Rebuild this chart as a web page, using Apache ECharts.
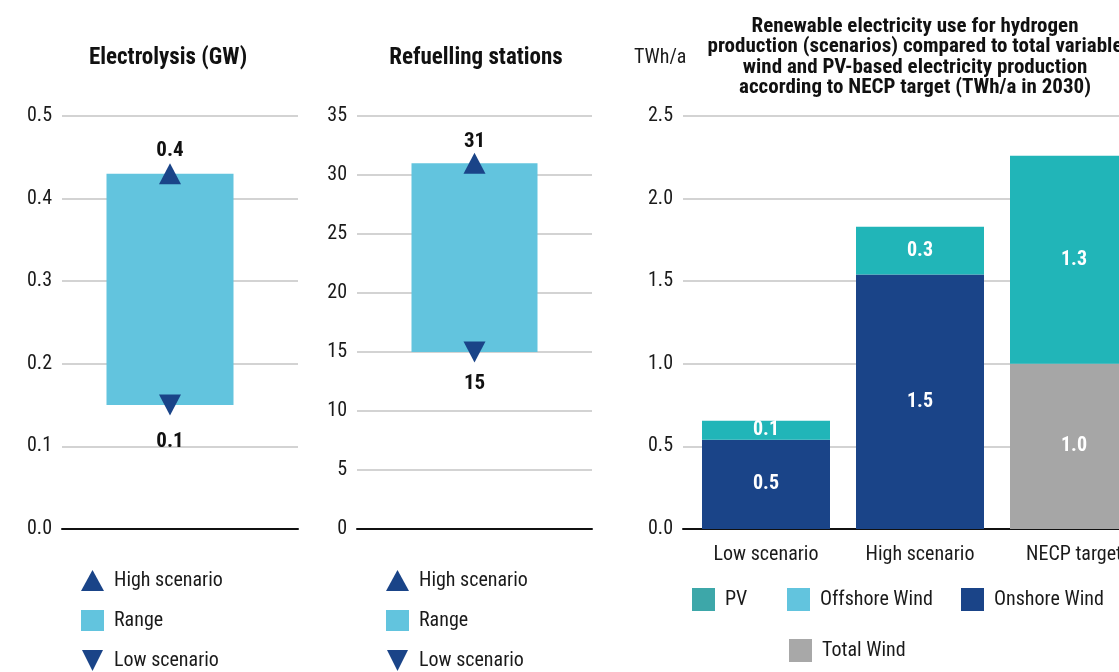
<!DOCTYPE html>
<html>
<head>
<meta charset="utf-8">
<script src="https://cdn.jsdelivr.net/npm/echarts@6/dist/echarts.min.js"></script>
<style>
  html, body { margin: 0; padding: 0; background: #fff; }
  #chart { width: 1119px; height: 672px; }
</style>
</head>
<body>
<div id="chart"></div>
<script>
// electrolysis panel (GW)
const electrolysisLow = [0.15];
const electrolysisHigh = [0.43];
const electrolysisLabels = { high: '0.4', low: '0.1' };
const electrolysisTicks = { min: 0, max: 0.5, step: 0.1 };

// refuelling stations panel
const stationsLow = [15];
const stationsHigh = [31];
const stationsLabels = { high: '31', low: '15' };
const stationsTicks = { min: 0, max: 35, step: 5 };

// renewable electricity panel (TWh/a in 2030)
const scenarioCats = ['Low scenario', 'High scenario', 'NECP target'];
const onshoreWind = [0.54, 1.54, null];
const offshoreWind = [null, null, null];
const totalWind = [null, null, 1.0];
const pvValues = [0.115, 0.29, 1.26];
const energyTicks = { min: 0, max: 2.5, step: 0.5 };

const FONT = "'Liberation Sans Narrow', 'Roboto Condensed', 'Liberation Sans', sans-serif";
const TXT = '#1a1a1a';
const DARK = '#1a4488';
const RANGE = '#62c4de';
const TEAL = '#21b5b8';
const GREY = '#a6a6a6';

const chart = echarts.init(document.getElementById('chart'));

const downTri = 'path://M0,0L10,0L5,10Z';

function valueAxis(gridIndex, t, show) {
  return {
    type: 'value', gridIndex, min: t.min, max: t.max, interval: t.step,
    show: show,
    axisLine: { show: false }, axisTick: { show: false },
    axisLabel: {
      color: TXT, fontSize: 20, fontFamily: FONT, margin: 10,
      formatter: v => (t.step < 1 ? v.toFixed(1) : String(v))
    },
    splitLine: { show: show, lineStyle: { color: '#c4c4c4', width: 1.5 } }
  };
}

function lineXAxis(gridIndex) {
  return {
    type: 'category', gridIndex, data: [''],
    axisLine: { lineStyle: { color: '#111', width: 2 } },
    axisTick: { show: false }, axisLabel: { show: false }
  };
}

function barXAxis(gridIndex) {
  return { type: 'category', gridIndex, data: [''], show: false };
}

// range panel series: transparent base + range + two markers
function rangeSeries(axisIdx, low, high, labels, barW, highGap, lowGap) {
  const lab = (txt, pos, d) => ({
    show: true, position: pos, distance: d, formatter: txt,
    color: '#111', fontSize: 21, fontWeight: 'bold', fontFamily: FONT
  });
  return [
    {
      type: 'bar', name: 'base', xAxisIndex: axisIdx, yAxisIndex: axisIdx,
      stack: 'r' + axisIdx, data: low, barWidth: barW,
      itemStyle: { color: 'transparent' }, silent: true
    },
    {
      type: 'bar', name: 'Range', xAxisIndex: axisIdx, yAxisIndex: axisIdx,
      stack: 'r' + axisIdx, data: high.map((h, i) => h - low[i]), barWidth: barW,
      itemStyle: { color: RANGE }
    },
    {
      type: 'scatter', name: 'High scenario', xAxisIndex: axisIdx, yAxisIndex: axisIdx,
      data: high, symbol: 'triangle', symbolSize: [22, 21],
      itemStyle: { color: DARK, opacity: 1 }, label: lab(labels.high, 'top', highGap), z: 5
    },
    {
      type: 'scatter', name: 'Low scenario', xAxisIndex: axisIdx, yAxisIndex: axisIdx,
      data: low, symbol: downTri, symbolSize: [22, 21],
      itemStyle: { color: DARK, opacity: 1 }, label: lab(labels.low, 'bottom', lowGap), z: 5
    }
  ];
}

const stackLabel = {
  show: true, position: 'inside', color: '#fff', fontSize: 20,
  fontWeight: 'bold', fontFamily: FONT,
  formatter: p => (p.value == null ? '' : p.value.toFixed(1))
};

function energyBar(name, data, color) {
  return {
    type: 'bar', name, xAxisIndex: 5, yAxisIndex: 5, stack: 'energy',
    data, barWidth: 128, itemStyle: { color }, label: stackLabel
  };
}

const rangeLegendData = [
  { name: 'High scenario', icon: 'triangle', itemStyle: { color: DARK, opacity: 1 } },
  { name: 'Range', icon: 'rect', itemStyle: { color: RANGE, opacity: 1 } },
  { name: 'Low scenario', icon: downTri, itemStyle: { color: DARK, opacity: 1 } }
];

function rangeLegend(left) {
  return {
    orient: 'vertical', left, top: 570, padding: 0,
    itemWidth: 23, itemHeight: 21, itemGap: 19,
    data: rangeLegendData, selectedMode: false,
    textStyle: { color: TXT, fontSize: 20, fontFamily: FONT, padding: [0, 0, 0, 5] }
  };
}

function singleLegend(name, left, top, swatch) {
  return {
    left, top, padding: 0, itemWidth: 23, itemHeight: 23, selectedMode: false,
    data: [{ name, icon: 'rect', itemStyle: { color: swatch } }],
    textStyle: { color: TXT, fontSize: 20, fontFamily: FONT, padding: [0, 0, 0, 5] }
  };
}

const titleStyle = { color: '#111', fontSize: 23, fontWeight: 'bold', fontFamily: FONT };

function grid(left, width) {
  return { left, width, top: 116, bottom: 143, outerBoundsMode: 'none', containLabel: false };
}

const option = {
  animation: false,
  title: [
    { text: 'Electrolysis (GW)', left: 168, top: 47, padding: 0, textAlign: 'center', textStyle: titleStyle },
    { text: 'Refuelling stations', left: 476, top: 47, padding: 0, textAlign: 'center', textStyle: titleStyle },
    {
      text: 'Renewable electricity use for hydrogen\nproduction (scenarios) compared to total variable\nwind and PV-based electricity production\naccording to NECP target (TWh/a in 2030)',
      left: 915, top: 16, padding: 0, textAlign: 'center',
      textStyle: Object.assign({}, titleStyle, { fontSize: 21, lineHeight: 20.5 })
    },
    { text: 'TWh/a', left: 634, top: 48, padding: 0, textStyle: { color: TXT, fontSize: 20, fontWeight: 'normal', fontFamily: FONT } }
  ],
  grid: [
    grid(62, 236),   // electrolysis gridlines
    grid(62, 216),   // electrolysis bar
    grid(357, 235),  // stations gridlines
    grid(357, 235),  // stations bar
    grid(683, 462),  // energy gridlines + axis
    grid(689, 462)   // energy bars
  ],
  xAxis: [
    lineXAxis(0), barXAxis(1), lineXAxis(2), barXAxis(3), lineXAxis(4),
    {
      type: 'category', gridIndex: 5, data: scenarioCats,
      axisLine: { show: false },
      axisTick: { show: false },
      axisLabel: { color: TXT, fontSize: 20, fontFamily: FONT, margin: 16 }
    }
  ],
  yAxis: [
    valueAxis(0, electrolysisTicks, true), valueAxis(1, electrolysisTicks, false),
    valueAxis(2, stationsTicks, true), valueAxis(3, stationsTicks, false),
    valueAxis(4, energyTicks, true), valueAxis(5, energyTicks, false)
  ],
  legend: [
    rangeLegend(81),
    rangeLegend(386),
    singleLegend('PV', 692, 588, '#3da7a9'),
    singleLegend('Offshore Wind', 787, 588, RANGE),
    singleLegend('Onshore Wind', 961, 588, DARK),
    singleLegend('Total Wind', 789, 639, '#a8a8a8')
  ],
  series: [
    ...rangeSeries(1, electrolysisLow, electrolysisHigh, electrolysisLabels, 127, 2, 16),
    ...rangeSeries(3, stationsLow, stationsHigh, stationsLabels, 126, 0, 11),
    energyBar('Onshore Wind', onshoreWind, DARK),
    energyBar('Total Wind', totalWind, GREY),
    energyBar('Offshore Wind', offshoreWind, RANGE),
    energyBar('PV', pvValues, TEAL)
  ]
};

chart.setOption(option);
</script>
</body>
</html>
